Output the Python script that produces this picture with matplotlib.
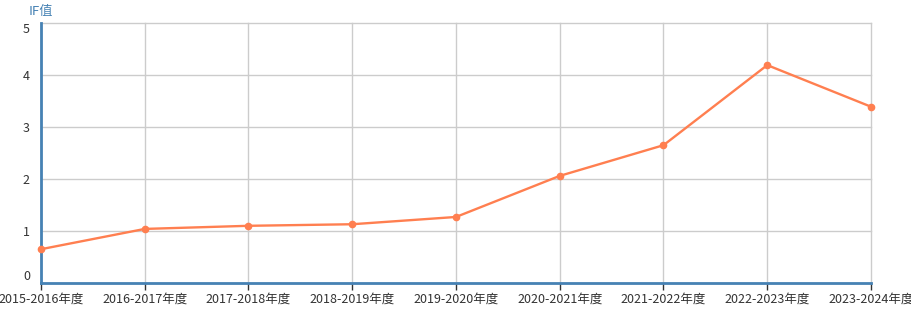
import matplotlib
matplotlib.use('Agg')
import matplotlib.pyplot as plt

plt.rcParams['font.family'] = ['Noto Sans CJK SC', 'DejaVu Sans']

years = ['2015-2016年度', '2016-2017年度', '2017-2018年度', '2018-2019年度', '2019-2020年度',
         '2020-2021年度', '2021-2022年度', '2022-2023年度', '2023-2024年度']
if_values = [0.65, 1.04, 1.10, 1.13, 1.27, 2.06, 2.65, 4.19, 3.39]
y_ticks = [0, 1, 2, 3, 4, 5]

fig = plt.figure(figsize=(9.12, 3.29), dpi=100)
ax = fig.add_axes([41 / 912, 46 / 329, 830 / 912, 260 / 329])

x = list(range(len(years)))
ax.plot(x, if_values, color='#FF7F50', lw=1.7, marker='o', ms=4.5, zorder=3, clip_on=False)

ax.set_xlim(0, len(years) - 1)
ax.set_ylim(0, 5)
ax.set_xticks(x)
ax.set_xticklabels(years)
ax.set_yticks(y_ticks)
ax.set_yticklabels([str(v) for v in y_ticks])
ax.grid(True, color='#cccccc', lw=1, clip_on=False)
ax.set_axisbelow(True)

for s in ['top', 'right']:
    ax.spines[s].set_visible(False)
for s in ['left', 'bottom']:
    ax.spines[s].set_color('#4682B4')
    ax.spines[s].set_linewidth(2)

ax.tick_params(axis='x', length=5, width=1, color='#333333', labelsize=9, labelcolor='#333333', pad=2)
ax.tick_params(axis='y', length=0, labelsize=9, labelcolor='#333333', pad=8)
ylabels = ax.get_yticklabels()
ylabels[0].set_va('bottom')
ylabels[-1].set_va('top')

fig.text(29 / 912, 1 - 11 / 329, 'IF值', color='#4682B4', fontsize=9.5, va='center', ha='left')

fig.savefig('out.png', dpi=100)
